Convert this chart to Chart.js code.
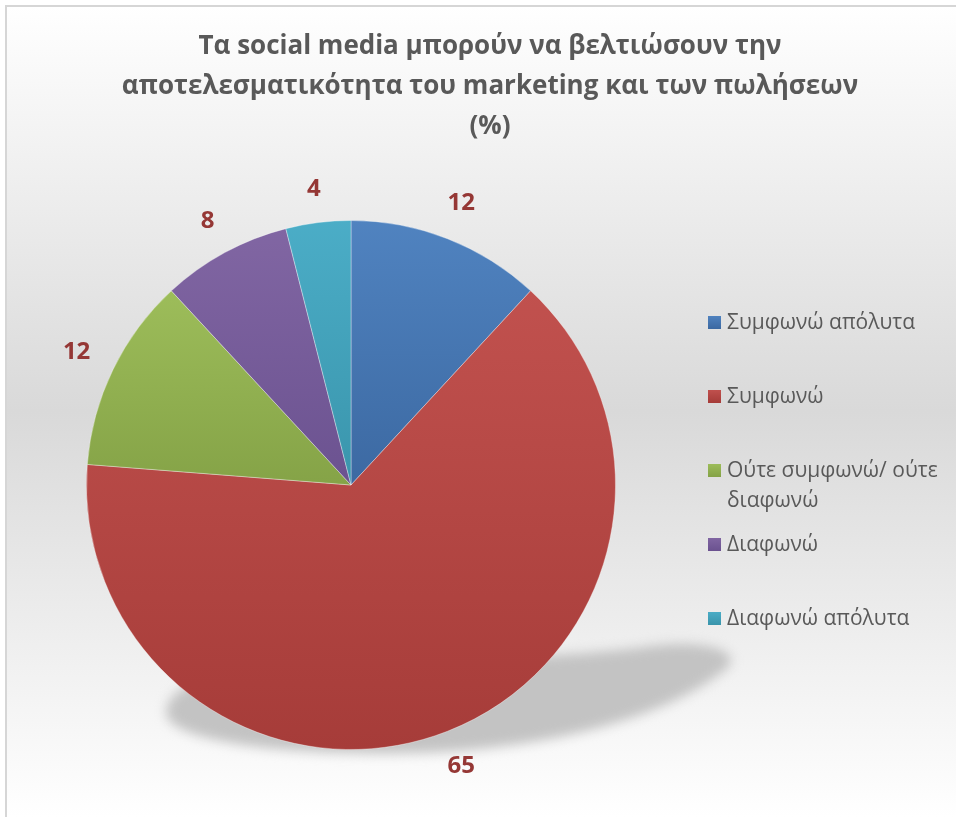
<!DOCTYPE html>
<html>
<head>
<meta charset="utf-8">
<script src="https://cdn.jsdelivr.net/npm/chart.js@4.4.1/dist/chart.umd.min.js"></script>
<style>
  html, body { margin: 0; padding: 0; background: #ffffff; width: 956px; height: 817px; overflow: hidden; }
  #wrap { position: absolute; left: 0; top: 0; width: 980px; height: 817px; }
</style>
</head>
<body>
<div id="wrap"><canvas id="c" width="980" height="817"></canvas></div>
<script>
// ---- data ----
const titleLines = [
  'Τα social media μπορούν να βελτιώσουν την',
  'αποτελεσματικότητα του marketing και των πωλήσεων',
  '(%)'
];
const categories = [
  'Συμφωνώ απόλυτα',
  'Συμφωνώ',
  'Ούτε συμφωνώ/ ούτε διαφωνώ',
  'Διαφωνώ',
  'Διαφωνώ απόλυτα'
];
const shares = [12, 65, 12, 8, 4];

// ---- palette (light top -> darker bottom per slice) ----
const sliceTop    = ['#5083c0', '#c1514e', '#9dbd5a', '#8166a3', '#4badc7'];
const sliceBottom = ['#3c69a2', '#a63c39', '#85a347', '#6b5290', '#3a95ac'];

const TEXT_FONT = '"Open Sans", "Noto Sans", "DejaVu Sans", sans-serif';

// vertical gradient spanning the slice's own vertical extent
function sliceFill(ctx) {
  const chart = ctx.chart;
  const i = ctx.dataIndex;
  const area = chart.chartArea;
  if (!area || i == null) return sliceTop[i] || '#888888';
  const cx = (area.left + area.right) / 2;
  const cy = (area.top + area.bottom) / 2;
  const r = Math.min(area.right - area.left, area.bottom - area.top) / 2;
  const vals = chart.data.datasets[0].data;
  const total = vals.reduce((a, b) => a + b, 0);
  let before = 0;
  for (let k = 0; k < i; k++) before += vals[k];
  const a0 = before / total * 2 * Math.PI;
  const a1 = (before + vals[i]) / total * 2 * Math.PI;
  const ys = [cy, cy - r * Math.cos(a0), cy - r * Math.cos(a1)];
  if (a0 <= 1e-9 || a1 >= 2 * Math.PI - 1e-9) ys.push(cy - r);
  if (a0 < Math.PI && a1 > Math.PI) ys.push(cy + r);
  const y0 = Math.min(...ys), y1 = Math.max(...ys);
  const g = chart.ctx.createLinearGradient(0, y0, 0, y1 + 0.01);
  g.addColorStop(0, sliceTop[i]);
  g.addColorStop(1, sliceBottom[i]);
  return g;
}

// page background: soft grey band, with a thin frame on top/left
const frameBackground = {
  id: 'frameBackground',
  beforeDraw(chart) {
    const { ctx, width, height } = chart;
    ctx.save();
    ctx.fillStyle = '#ffffff';
    ctx.fillRect(0, 0, width, height);
    const g = ctx.createLinearGradient(0, 6, 0, height);
    g.addColorStop(0, '#ffffff');
    g.addColorStop(0.5, '#d9d9d9');
    g.addColorStop(1, '#ffffff');
    ctx.fillStyle = g;
    ctx.fillRect(6, 6, width, height);
    ctx.strokeStyle = '#d6d6d6';
    ctx.lineWidth = 2;
    ctx.beginPath();
    ctx.moveTo(6, height + 10);
    ctx.lineTo(6, 6);
    ctx.lineTo(width + 10, 6);
    ctx.stroke();
    ctx.restore();
  }
};

// soft floor shadow under the pie (egg shape, in units of the radius)
const pieShadow = {
  id: 'pieShadow',
  beforeDatasetsDraw(chart) {
    const arc = chart.getDatasetMeta(0).data[0];
    if (!arc) return;
    const { x, y, outerRadius: r } = arc.getProps(['x', 'y', 'outerRadius'], true);
    const P = (u, v) => [x + u * r, y + v * r];
    const ctx = chart.ctx;
    ctx.save();
    ctx.filter = 'blur(6px)';
    ctx.fillStyle = '#c3c3c3';
    ctx.beginPath();
    ctx.moveTo(...P(-0.698, 0.857));
    ctx.bezierCurveTo(...P(-0.706, 0.955), ...P(-0.343, 1.015), ...P(0.147, 1.015));
    ctx.bezierCurveTo(...P(0.638, 1.015), ...P(1.166, 0.906), ...P(1.423, 0.691));
    ctx.bezierCurveTo(...P(1.487, 0.623), ...P(1.317, 0.577), ...P(1.091, 0.615));
    ctx.bezierCurveTo(...P(0.638, 0.668), ...P(-0.117, 0.668), ...P(-0.457, 0.706));
    ctx.bezierCurveTo(...P(-0.608, 0.736), ...P(-0.698, 0.792), ...P(-0.698, 0.857));
    ctx.closePath();
    ctx.fill();
    ctx.restore();
  }
};

// value labels just outside each slice
const sliceValueLabels = {
  id: 'sliceValueLabels',
  afterDatasetsDraw(chart) {
    const ctx = chart.ctx;
    const meta = chart.getDatasetMeta(0);
    const vals = chart.data.datasets[0].data;
    ctx.save();
    ctx.font = 'bold 24px ' + TEXT_FONT;
    ctx.fillStyle = '#953735';
    ctx.textAlign = 'center';
    ctx.textBaseline = 'middle';
    meta.data.forEach((arc, i) => {
      const p = arc.getProps(['x', 'y', 'startAngle', 'endAngle', 'outerRadius'], true);
      const mid = (p.startAngle + p.endAngle) / 2;
      const txt = String(vals[i]);
      const hw = ctx.measureText(txt).width / 2 + 2, hh = 12;
      const c = Math.cos(mid), s = Math.sin(mid);
      const d = p.outerRadius + 21 + Math.abs(c) * hw + Math.abs(s) * hh;
      ctx.fillText(txt, p.x + c * d, p.y + s * d);
    });
    ctx.restore();
  }
};

// layout boxes: a left gutter and a right-hand legend column
const sideBoxes = {
  id: 'sideBoxes',
  beforeInit(chart) {
    const gutter = {
      position: 'left', weight: 0, fullSize: false, options: {},
      isHorizontal() { return false; },
      update(maxW, maxH) { this.width = 86; this.height = maxH; },
      getPadding() { return { left: 0, right: 0, top: 0, bottom: 0 }; },
      draw() {}
    };
    const legendColumn = {
      position: 'right', weight: 0, fullSize: false, options: {},
      isHorizontal() { return false; },
      update(maxW, maxH) { this.width = 364; this.height = maxH; },
      getPadding() { return { left: 0, right: 0, top: 0, bottom: 0 }; },
      draw() {
        const ctx = chart.ctx;
        const area = chart.chartArea;
        const cy = (area.top + area.bottom) / 2;
        const labels = chart.data.labels;
        const pitch = 74, lineStep = 30, box = 13, wrapWidth = 225;
        ctx.save();
        ctx.font = '21px ' + TEXT_FONT;
        // wrap labels into lines
        const wrapped = labels.map(txt => {
          const words = txt.split(' ');
          const lines = [];
          let cur = '';
          words.forEach(w => {
            const t = cur ? cur + ' ' + w : w;
            if (cur && ctx.measureText(t).width > wrapWidth) { lines.push(cur); cur = w; }
            else cur = t;
          });
          if (cur) lines.push(cur);
          return lines;
        });
        const extra = wrapped.reduce((s, l) => s + (l.length - 1) * lineStep, 0);
        let y = cy - (pitch * (labels.length - 1) + extra) / 2;
        const sqX = this.left + 92;
        const textX = sqX + 19;
        ctx.textAlign = 'left';
        ctx.textBaseline = 'middle';
        wrapped.forEach((lines, i) => {
          const g = ctx.createLinearGradient(0, y - box / 2, 0, y + box / 2);
          g.addColorStop(0, sliceTop[i]);
          g.addColorStop(1, sliceBottom[i]);
          ctx.fillStyle = g;
          ctx.fillRect(sqX, Math.round(y - box / 2), box, box);
          ctx.fillStyle = '#595959';
          lines.forEach((ln, k) => ctx.fillText(ln, textX, y + 1 + k * lineStep));
          y += pitch;
        });
        ctx.restore();
      }
    };
    Chart.layouts.addBox(chart, gutter);
    Chart.layouts.addBox(chart, legendColumn);
  }
};

new Chart(document.getElementById('c'), {
  type: 'pie',
  data: {
    labels: categories,
    datasets: [{
      data: shares,
      backgroundColor: sliceFill,
      borderColor: 'rgba(255,255,255,0.35)',
      borderWidth: 1
    }]
  },
  options: {
    responsive: false,
    animation: false,
    devicePixelRatio: 1,
    layout: { padding: { top: 0, left: 0, right: 0, bottom: 67 } },
    plugins: {
      legend: { display: false },
      tooltip: { enabled: false },
      title: {
        display: true,
        text: titleLines,
        color: '#595959',
        font: { family: TEXT_FONT, size: 26, weight: 'bold', lineHeight: '40px' },
        padding: { top: 27, bottom: 73 }
      }
    }
  },
  plugins: [frameBackground, pieShadow, sliceValueLabels, sideBoxes]
});
</script>
</body>
</html>
